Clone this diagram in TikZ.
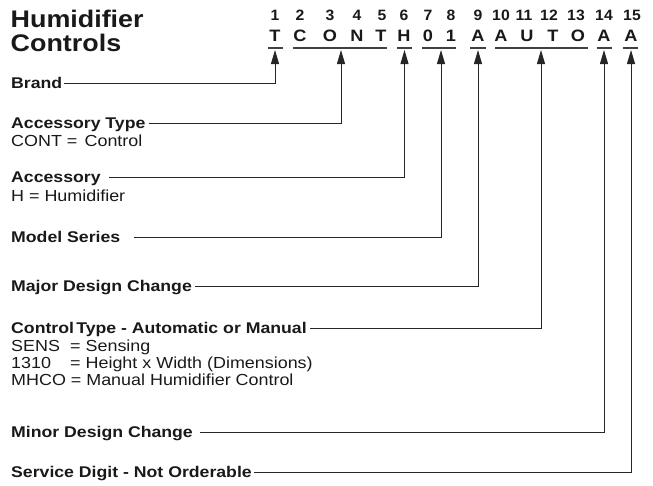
\documentclass[tikz,border=0pt]{standalone}
\usepackage{fontspec}
\setmainfont{Liberation Sans}
\usepackage{graphicx}
\usetikzlibrary{arrows.meta}
\newcommand{\hs}[2][1.14]{\scalebox{#1}[1]{#2}}
\newcommand{\hr}[1]{\scalebox{1.12}[1]{#1}}
\begin{document}
\begin{tikzpicture}[x=1pt,y=-1pt,
  lbl/.style={anchor=west, inner xsep=0pt, inner ysep=0pt, text height=11pt, text depth=0pt, text=black!90, font=\bfseries\fontsize{15.5}{18}\selectfont},
  desc/.style={lbl, text height=11.5pt, font=\fontsize{16}{18}\selectfont},
  ttl/.style={anchor=base west, inner sep=0pt, text=black!90, font=\bfseries\fontsize{24}{28}\selectfont},
  code/.style={anchor=base, inner sep=0pt, text=black!90, font=\bfseries\fontsize{16.5}{18}\selectfont},
  num/.style={anchor=base, inner sep=0pt, text=black!90, font=\bfseries\fontsize{15}{18}\selectfont},
  conn/.style={draw=black!85, line width=1pt, -{Triangle[width=8pt,length=14pt]}},
  uline/.style={draw=black!75, line width=1.3pt}]
\useasboundingbox (0,0) rectangle (653,485);
% title
\node[ttl] (title1) at (10.5,27) {\hs[1.12]{Humidifier}};
\node[ttl] (title2) at (10.5,51) {\hs[1.12]{Controls}};
% digits
\foreach \n/\x in {1/275,2/300,3/330,4/357,5/382,6/404,7/428,8/451,9/478,10/501,11/524,12/549,13/576,14/604,15/632}
  \node[num] (n\n) at (\x,20.5) {\hs[1.05]{\n}};
% code letters
\foreach \n/\l/\x in {1/T/275,2/C/300,3/O/330,4/N/357,5/T/381,6/H/404,7/0/428,8/1/451,9/A/478,10/A/501,11/U/527,12/T/553,13/O/578,14/A/604,15/A/631}
  \node[code] (c\n) at (\x,41.7) {\hs[1.1]{\l}};
% underlines
\coordinate (uTa) at (268,48); \coordinate (uTb) at (283,48);
\coordinate (uCa) at (293,48); \coordinate (uCb) at (387,48);
\coordinate (uHa) at (397,48); \coordinate (uHb) at (412,48);
\coordinate (uMa) at (422,48); \coordinate (uMb) at (456,48);
\coordinate (uAa) at (470,48); \coordinate (uAb) at (486,48);
\coordinate (uUa) at (495,48); \coordinate (uUb) at (588,48);
\coordinate (uNa) at (597,48); \coordinate (uNb) at (612,48);
\coordinate (uSa) at (623,48); \coordinate (uSb) at (638,48);
\foreach \u in {T,C,H,M,A,U,N,S} \draw[uline] (u\u a) -- (u\u b);
% arrow tips
\coordinate (tipT) at (275,50);
\coordinate (tipC) at (341,50);
\coordinate (tipH) at (404.5,50);
\coordinate (tipM) at (441,50);
\coordinate (tipA) at (478,50);
\coordinate (tipU) at (541,50);
\coordinate (tipN) at (604,50);
\coordinate (tipS) at (631,50);
% labels
\node[lbl] (lBrand) at (11,83) {\hs{Brand}};
\node[lbl] (lAccT) at (11,123) {\hs{Accessory Type}};
\node[desc] (dCONT) at (11,141) {\hr{CONT = \hspace{2pt}Control}};
\node[lbl] (lAcc) at (11,177) {\hs{Accessory}};
\node[desc] (dH) at (11,196) {\hr{H = Humidifier}};
\node[lbl] (lModel) at (11,237) {\hs{Model Series}};
\node[lbl] (lMajor) at (11,286) {\hs{Major Design Change}};
\node[lbl] (lCtrl) at (11,328) {\hs{Control\hspace{2pt}Type - Automatic or Manual}};
\node[desc] (dSENS) at (11,346) {\hr{\makebox[52.7pt][l]{SENS}= Sensing}};
\node[desc] (d1310) at (11,363) {\hr{\makebox[52.7pt][l]{1310}= Height x Width (Dimensions)}};
\node[desc] (dMHCO) at (11,380) {\hr{MHCO = Manual Humidifier Control}};
\node[lbl] (lMinor) at (11,432) {\hs{Minor Design Change}};
\node[lbl] (lServ) at (11,472) {\hs{Service Digit - Not Orderable}};
% connectors
\draw[conn] ([xshift=2pt]lBrand.east) -| (tipT);
\draw[conn] ([xshift=3pt]lAccT.east) -| (tipC);
\draw[conn] ([xshift=8pt]lAcc.east) -| (tipH);
\draw[conn] ([xshift=14pt]lModel.east) -| (tipM);
\draw[conn] ([xshift=3pt]lMajor.east) -| (tipA);
\draw[conn] ([xshift=3pt]lCtrl.east) -| (tipU);
\draw[conn] ([xshift=7pt]lMinor.east) -| (tipN);
\draw[conn] ([xshift=2pt]lServ.east) -| (tipS);
\end{tikzpicture}
\end{document}
